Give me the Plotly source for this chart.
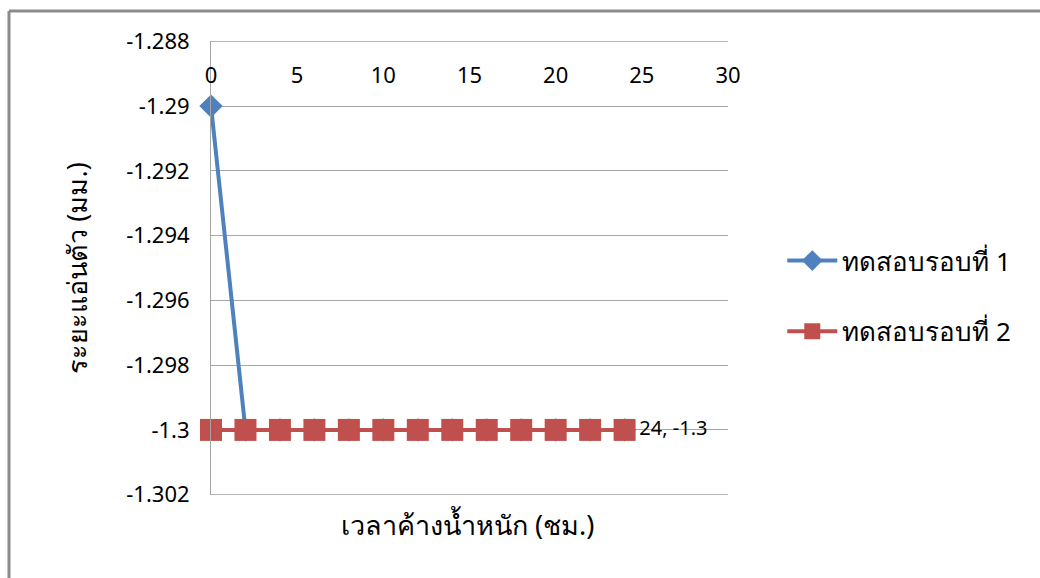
import plotly.graph_objects as go

# Loading time (hours) and deflection readings (mm)
hours = [0, 2, 4, 6, 8, 10, 12, 14, 16, 18, 20, 22, 24]
run1 = [-1.29, -1.3, -1.3, -1.3, -1.3, -1.3, -1.3, -1.3, -1.3, -1.3, -1.3, -1.3, -1.3]
run2 = [-1.3, -1.3, -1.3, -1.3, -1.3, -1.3, -1.3, -1.3, -1.3, -1.3, -1.3, -1.3, -1.3]
series_names = ["ทดสอบรอบที่ 1", "ทดสอบรอบที่ 2"]

x_ticks = [0, 5, 10, 15, 20, 25, 30]
y_ticks = [-1.288, -1.29, -1.292, -1.294, -1.296, -1.298, -1.3, -1.302]
y_tick_text = ["-1.288", "-1.29", "-1.292", "-1.294", "-1.296", "-1.298", "-1.3", "-1.302"]

FONT = "Noto Sans, DejaVu Sans, sans-serif"
BLUE = "#4F81BD"
RED = "#C0504D"
GRID = "#A6A6A6"

last_label = [""] * (len(hours) - 1) + [f"{hours[-1]}, {run2[-1]:g}"]

fig = go.Figure()
fig.add_trace(go.Scatter(
    x=hours, y=run1, name=series_names[0], mode="lines+markers",
    line=dict(color=BLUE, width=4),
    marker=dict(symbol="diamond", size=18, color=BLUE),
    legendgroup="a", cliponaxis=False,
))
fig.add_trace(go.Scatter(
    x=hours, y=run2, name=series_names[1], mode="lines+markers+text",
    line=dict(color=RED, width=4),
    marker=dict(symbol="square", size=22, color=RED),
    text=last_label, textposition="middle right",
    textfont=dict(family=FONT, size=20, color="#000000"),
    legendgroup="b", cliponaxis=False,
))

# Gridlines on the outer ticks of the value axis (top and bottom edges)
edge_lines = [
    dict(type="line", xref="x domain", yref="y", x0=0, x1=1,
         y0=yv, y1=yv, line=dict(color=GRID, width=1), layer="below")
    for yv in (y_ticks[0], y_ticks[-1])
]

# Outer chart frame
frame = [
    dict(type="line", xref="paper", yref="paper",
         x0=(9 - 211) / 517, x1=(1040 - 211) / 517,
         y0=(495 - 11) / 454, y1=(495 - 11) / 454,
         line=dict(color="#8C8C8C", width=3)),
    dict(type="line", xref="paper", yref="paper",
         x0=(9 - 211) / 517, x1=(9 - 211) / 517,
         y0=(495 - 11) / 454, y1=(495 - 578) / 454,
         line=dict(color="#8C8C8C", width=3)),
]

fig.update_layout(
    width=1040, height=578,
    margin=dict(l=211, r=312, t=41, b=83),
    paper_bgcolor="white", plot_bgcolor="white",
    font=dict(family=FONT, size=22, color="#000000"),
    showlegend=True,
    legend=dict(
        x=1.105, y=0.438, xanchor="left", yanchor="middle",
        font=dict(family=FONT, size=26, color="#000000"),
        tracegroupgap=34, itemwidth=50,
    ),
    xaxis=dict(
        range=[0, 30], tickvals=x_ticks,
        anchor="free", position=0.958, side="bottom",
        showgrid=False, zeroline=False, showline=False, ticks="",
        tickfont=dict(size=22),
        title=None,
    ),
    yaxis=dict(
        range=[-1.30201, -1.28799], tickvals=y_ticks, ticktext=y_tick_text,
        showgrid=True, gridcolor=GRID, gridwidth=1,
        zeroline=False, showline=True, linecolor=GRID, linewidth=1,
        ticks="", ticklabelstandoff=16,
        tickfont=dict(size=22),
        title=dict(text="ระยะแอ่นตัว (มม.)", font=dict(size=27), standoff=30),
    ),
    annotations=[dict(
        text="เวลาค้างน้ำหนัก (ชม.)", xref="paper", yref="paper",
        x=0.497, y=-0.064, xanchor="center", yanchor="middle",
        showarrow=False, font=dict(family=FONT, size=27),
    )],
    shapes=edge_lines + frame,
)

fig.write_html("out.html")
